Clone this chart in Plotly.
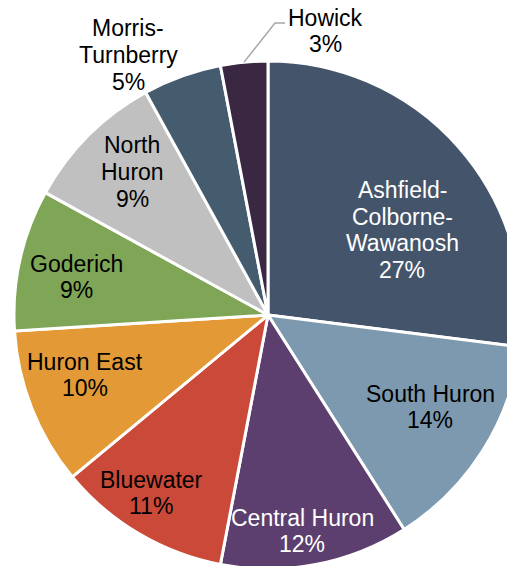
import math
import plotly.graph_objects as go

# ---- data ----
labels = ["Ashfield-Colborne-Wawanosh", "South Huron", "Central Huron", "Bluewater",
          "Huron East", "Goderich", "North Huron", "Morris-Turnberry", "Howick"]
display_lines = [["Ashfield-", "Colborne-", "Wawanosh"], ["South Huron"], ["Central Huron"],
                 ["Bluewater"], ["Huron East"], ["Goderich"], ["North", "Huron"],
                 ["Morris-", "Turnberry"], ["Howick"]]
values = [27, 14, 12, 11, 10, 9, 9, 5, 3]

# ---- style ----
colors = ["#44546A", "#7C99AF", "#5C3F6F", "#CB4938", "#E39A36", "#7FA556", "#C0C0C0", "#455B6E", "#3A2842"]
text_colors = ["white", "black", "white", "black", "black", "black", "black", "black", "black"]
OFF = 8                      # page body margin offset
W, H = 515, 566              # figure size
CX, CY, R = 268, 315, 254    # pie centre / radius in page pixels
# label block centres in page pixels (layout only)
label_pos = [(402, 230), (430, 407), (302, 531), (151, 493), (85, 375),
             (76, 277), (132, 172), (128, 55), (325, 31)]
LINE_H = 26.8
FONT = "Liberation Sans, Arial, sans-serif"
FS = 23


def px(x):
    return (x - OFF) / W


def py(y):
    return 1 - (y - OFF) / H


fig = go.Figure(go.Pie(
    labels=labels, values=values, sort=False, direction="clockwise", rotation=0,
    marker=dict(colors=colors, line=dict(color="white", width=3)),
    textinfo="none", showlegend=False, hoverinfo="label+percent",
    domain=dict(x=[max(0, px(CX - R)), min(1, px(CX + R))],
                y=[max(0, py(CY + R)), min(1, py(CY - R))]),
))

total = sum(values)
anns = []
for lines, v, (lx, ly), tc in zip(display_lines, values, label_pos, text_colors):
    all_lines = lines + [f"{round(100 * v / total)}%"]
    n = len(all_lines)
    for i, t in enumerate(all_lines):
        y = ly + (i - (n - 1) / 2) * LINE_H
        anns.append(dict(x=px(lx), y=py(y), xref="paper", yref="paper", text=t,
                         showarrow=False, xanchor="center", yanchor="middle",
                         font=dict(family=FONT, size=FS, color=tc)))

# leader line for Howick, from its slice's outer edge at mid-angle
cum = sum(values[:-1]) + values[-1] / 2
ang = 2 * math.pi * cum / total
sx, sy = CX + R * math.sin(ang), CY - R * math.cos(ang)
ex, ey = 275, 23
fig.add_shape(type="path", xref="paper", yref="paper",
              path=f"M {px(sx)} {py(sy)} L {px(ex)} {py(ey)} L {px(ex + 10)} {py(ey)}",
              line=dict(color="#A6A6A6", width=1.5))

fig.update_layout(
    width=W, height=H, margin=dict(l=0, r=0, t=0, b=0),
    paper_bgcolor="white", plot_bgcolor="white", annotations=anns,
)
fig.write_html("out.html")
